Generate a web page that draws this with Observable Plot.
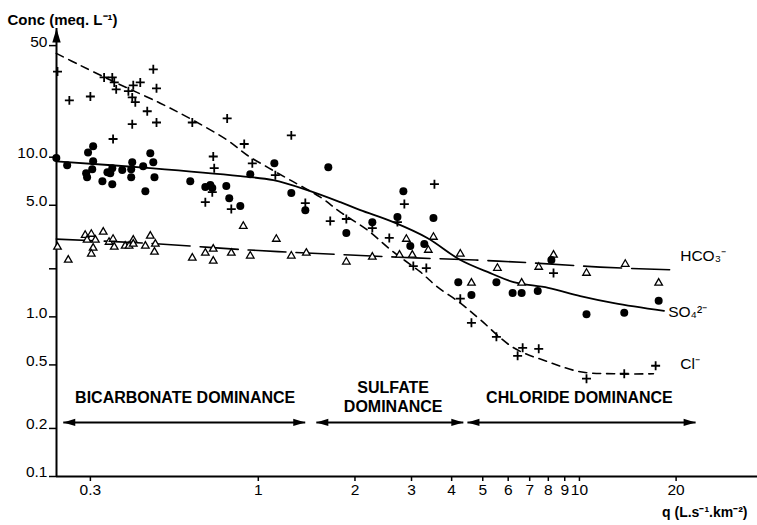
<!DOCTYPE html>
<html>
<head>
<meta charset="utf-8">
<script src="https://cdn.jsdelivr.net/npm/d3@7"></script>
<script src="https://cdn.jsdelivr.net/npm/@observablehq/plot@0.6"></script>
<style>
  body { margin: 0; background: #fff; }
  #chart svg { display: block; }
</style>
</head>
<body>
<div id="chart"></div>
<script>
// ---------- Axes ----------
const xDomain = [0.2353, 35.85];
const yDomain = [0.1, 64];
const xTicks = [0.3, 1, 2, 3, 4, 5, 6, 7, 8, 9, 10, 20];
const xTickLabels = ["0.3", "1", "2", "3", "4", "5", "6", "7", "8", "9", "10", "20"];
const yTicks = [50, 10, 5, 2, 1, 0.5, 0.2, 0.1];
const yTickLabels = ["50", "10.0", "5.0", "", "1.0", "0.5", "0.2", "0.1"];
const yTitle = "Conc (meq. L\u207B\u00B9)";
const xTitle = "q (L.s\u207B\u00B9.km\u207B\u00B2)";

// ---------- Cl- observations (crosses) ----------
const clQ = [0.237, 0.258, 0.300, 0.331, 0.351, 0.356, 0.361, 0.394, 0.408, 0.429, 0.405, 0.414, 0.471, 0.482, 0.451, 0.482, 0.405, 0.353, 0.623, 0.800, 1.267, 0.904, 0.724, 0.958, 0.729, 1.130, 0.719, 0.684, 0.824,
  1.401, 1.675, 1.880, 2.265, 2.558, 2.712, 2.850, 3.536, 3.039, 3.336, 4.256, 4.610, 5.514, 8.304, 6.420, 6.656, 7.469, 10.52, 13.79, 17.27];
const clC = [34.4, 22.7, 24.0, 31.6, 31.6, 29.4, 26.6, 25.9, 28.2, 29.4, 23.7, 22.1, 35.5, 27.0, 19.4, 16.5, 16.1, 13.0, 16.5, 17.5, 13.7, 12.1, 10.1, 9.16, 8.54, 7.72, 6.04, 5.23, 4.73,
  5.16, 3.98, 4.10, 3.60, 3.12, 3.92, 5.09, 6.78, 2.08, 2.02, 1.30, 0.917, 0.750, 1.88, 0.570, 0.640, 0.631, 0.410, 0.440, 0.494];

// ---------- SO4 2- observations (filled circles) ----------
const so4Q = [0.235, 0.254, 0.295, 0.306, 0.306, 0.304, 0.291, 0.293, 0.327, 0.351, 0.346, 0.351, 0.377, 0.405, 0.402, 0.402, 0.438, 0.461, 0.471, 0.475, 0.445, 0.339, 0.614, 0.684, 0.709, 0.719, 0.795, 0.812, 0.879, 0.944, 1.122, 1.267, 1.652, 1.401,
  1.880, 2.265, 2.712, 2.830, 2.974, 3.288, 3.511, 4.195, 4.610, 5.514, 6.193, 6.608, 7.416, 8.178, 10.52, 13.79, 17.65];
const so4C = [9.87, 8.90, 10.7, 11.7, 9.42, 8.42, 7.94, 7.50, 7.07, 8.54, 7.94, 6.78, 8.30, 9.29, 8.42, 7.50, 8.77, 10.6, 9.29, 7.50, 6.13, 8.06, 7.07, 6.50, 6.69, 6.41, 6.59, 5.54, 4.94, 7.83, 9.16, 5.96, 8.66, 4.66,
  3.35, 3.92, 4.22, 6.13, 2.78, 2.86, 4.16, 1.65, 1.37, 1.65, 1.41, 1.41, 1.45, 2.27, 1.04, 1.06, 1.26];

// ---------- HCO3- observations (open triangles) ----------
const hco3Q = [0.237, 0.256, 0.289, 0.302, 0.293, 0.311, 0.306, 0.302, 0.329, 0.343, 0.353, 0.356, 0.385, 0.396, 0.408, 0.408, 0.445, 0.461, 0.478, 0.475, 0.623, 0.684, 0.724, 0.724, 0.824, 0.898, 0.944, 1.138, 1.267, 1.411,
  1.880, 2.265, 2.752, 3.017, 2.891, 3.384, 3.511, 4.256, 4.610, 5.554, 6.608, 7.469, 8.304, 10.52, 13.89, 17.65];
const hco3C = [2.74, 2.27, 3.25, 3.30, 3.03, 3.03, 2.70, 2.48, 3.40, 2.94, 3.07, 2.74, 2.78, 2.78, 3.03, 2.86, 2.78, 3.21, 2.86, 2.55, 2.34, 2.51, 2.66, 2.24, 2.51, 3.70, 2.41, 3.07, 2.41, 2.51,
  2.21, 2.37, 2.44, 2.44, 3.07, 2.62, 3.16, 2.48, 1.63, 2.02, 1.63, 2.05, 2.44, 1.88, 2.14, 1.63];

// ---------- Fitted trend curves ----------
const clFitQ = [0.235, 0.279, 0.364, 0.495, 0.628, 0.800, 0.924, 1.067, 1.258, 1.560, 1.801, 2.185, 2.634, 3.196, 3.61, 4.26, 4.917, 6.238, 7.993, 10.06, 12.82, 17.0];
const clFitC = [44.7, 37.6, 29.0, 21.8, 17.0, 12.8, 10.29, 8.66, 7.18, 5.62, 4.53, 3.50, 2.55, 1.91, 1.54, 1.22, 0.958, 0.640, 0.523, 0.453, 0.440, 0.440];
const so4FitQ = [0.235, 0.461, 0.879, 1.114, 1.421, 1.801, 2.079, 2.634, 3.36, 4.26, 5.28, 6.238, 7.993, 10.06, 12.82, 18.34];
const so4FitC = [9.42, 8.54, 7.61, 7.18, 6.22, 5.23, 4.66, 3.92, 3.12, 2.27, 1.88, 1.65, 1.52, 1.35, 1.22, 1.09];
const hco3FitQ = [0.235, 0.438, 0.944, 1.935, 3.08, 4.74, 7.03, 11.6, 19.2];
const hco3FitC = [3.07, 2.90, 2.62, 2.44, 2.34, 2.27, 2.18, 2.05, 1.97];

// ---------- Series labels ----------
const seriesNames = ["HCO\u2083\u207B", "SO\u2084\u00B2\u207B", "Cl\u207B"];
const seriesLabelQ = [20.6, 18.9, 20.6];
const seriesLabelC = [2.41, 1.075, 0.508];

// ---------- Dominance regions ----------
const regionNames = ["BICARBONATE DOMINANCE", "SULFATE\nDOMINANCE", "CHLORIDE DOMINANCE"];
const regionTextQ = [0.592, 2.63, 10.0];
const regionTextC = [0.316, 0.316, 0.316];
const regionStart = [0.247, 1.516, 4.48];
const regionEnd = [1.40, 4.35, 23.0];
const regionArrowC = [0.218, 0.218, 0.218];

// ---------- Build tables ----------
const zip = (qs, cs) => qs.map((q, i) => ({q, c: cs[i]}));
const cl = zip(clQ, clC);
const so4 = zip(so4Q, so4C);
const hco3 = zip(hco3Q, hco3C);
const clFit = zip(clFitQ, clFitC);
const so4Fit = zip(so4FitQ, so4FitC);
const hco3Fit = zip(hco3FitQ, hco3FitC);
const xTickRows = xTicks.map((v, i) => ({v, t: xTickLabels[i]}));
const yTickRows = yTicks.map((v, i) => ({v, t: yTickLabels[i]})).filter((d) => d.t !== "");
const seriesLabels = seriesNames.map((t, i) => ({t, q: seriesLabelQ[i], c: seriesLabelC[i]}));
const regions = regionNames.map((t, i) => ({t, tq: regionTextQ[i], tc: regionTextC[i], s: regionStart[i], e: regionEnd[i], ac: regionArrowC[i]}));

// custom arrowhead symbols
const headRight = {draw(ctx, size) { const r = Math.sqrt(size / Math.PI); ctx.moveTo(r, 0); ctx.lineTo(-r, -r * 0.6); ctx.lineTo(-r, r * 0.6); ctx.closePath(); }};
const headLeft = {draw(ctx, size) { const r = Math.sqrt(size / Math.PI); ctx.moveTo(-r, 0); ctx.lineTo(r, -r * 0.6); ctx.lineTo(r, r * 0.6); ctx.closePath(); }};
const headUp = {draw(ctx, size) { const r = Math.sqrt(size / Math.PI); ctx.moveTo(0, -r); ctx.lineTo(-r * 0.6, r); ctx.lineTo(r * 0.6, r); ctx.closePath(); }};

const font = "'Liberation Sans', Arial, Helvetica, sans-serif";

const chart = Plot.plot({
  width: 757,
  height: 525,
  marginLeft: 56,
  marginRight: 0,
  marginTop: 28,
  marginBottom: 49,
  style: {fontFamily: font, fontSize: "15.5px", color: "black", background: "white", overflow: "visible"},
  x: {type: "log", domain: xDomain},
  y: {type: "log", domain: yDomain},
  marks: [
    // tick marks (labels drawn separately)
    Plot.axisX({ticks: xTicks, tickSize: 5, tickFormat: () => "", strokeWidth: 1.5, label: null}),
    Plot.axisY({ticks: yTicks, tickSize: 7, tickFormat: () => "", strokeWidth: 1.5, label: null}),
    Plot.text(xTickRows, {x: "v", text: "t", frameAnchor: "bottom", dy: 18, fontSize: 15.5}),
    Plot.text(yTickRows, {y: "v", text: "t", frameAnchor: "left", dx: -9, dy: -4, textAnchor: "end", fontSize: 15.5}),
    Plot.ruleY([yDomain[0]], {strokeWidth: 2}),
    Plot.ruleX([xDomain[0]], {strokeWidth: 2}),
    Plot.dot([0], {frameAnchor: "top-left", symbol: headUp, r: 7, dy: 7, fill: "black", stroke: "none"}),
    // axis titles
    Plot.text([yTitle], {frameAnchor: "top-left", dx: -49, dy: -14, textAnchor: "start", fontWeight: "bold", fontSize: 15}),
    Plot.text([xTitle], {frameAnchor: "bottom-right", dx: -10, dy: 40, textAnchor: "end", fontWeight: "bold", fontSize: 14}),
    // trend curves
    Plot.line(hco3Fit, {x: "q", y: "c", curve: "catmull-rom", stroke: "black", strokeWidth: 1.6, strokeDasharray: "38,10"}),
    Plot.line(so4Fit, {x: "q", y: "c", curve: "catmull-rom", stroke: "black", strokeWidth: 1.8}),
    Plot.line(clFit, {x: "q", y: "c", curve: "catmull-rom", stroke: "black", strokeWidth: 1.6, strokeDasharray: "8,6"}),
    // observations
    Plot.dot(hco3, {x: "q", y: "c", symbol: "triangle2", r: 3.6, stroke: "black", fill: "white", strokeWidth: 1.3}),
    Plot.dot(so4, {x: "q", y: "c", symbol: "circle", r: 4, fill: "black", stroke: "none"}),
    Plot.dot(cl, {x: "q", y: "c", symbol: "plus", r: 3, stroke: "black", strokeWidth: 1.8}),
    // series labels
    Plot.text(seriesLabels, {x: "q", y: "c", text: "t", textAnchor: "start", fontSize: 15.5}),
    // dominance regions
    Plot.link(regions, {x1: "s", x2: "e", y1: "ac", y2: "ac", stroke: "black", strokeWidth: 2}),
    Plot.dot(regions, {x: "s", y: "ac", symbol: headLeft, r: 6, dx: 6, fill: "black", stroke: "none"}),
    Plot.dot(regions, {x: "e", y: "ac", symbol: headRight, r: 6, dx: -6, fill: "black", stroke: "none"}),
    Plot.text(regions, {x: "tq", y: "tc", text: "t", fontWeight: "bold", fontSize: 16, lineHeight: 1.15})
  ]
});
document.getElementById("chart").appendChild(chart);
</script>
</body>
</html>
